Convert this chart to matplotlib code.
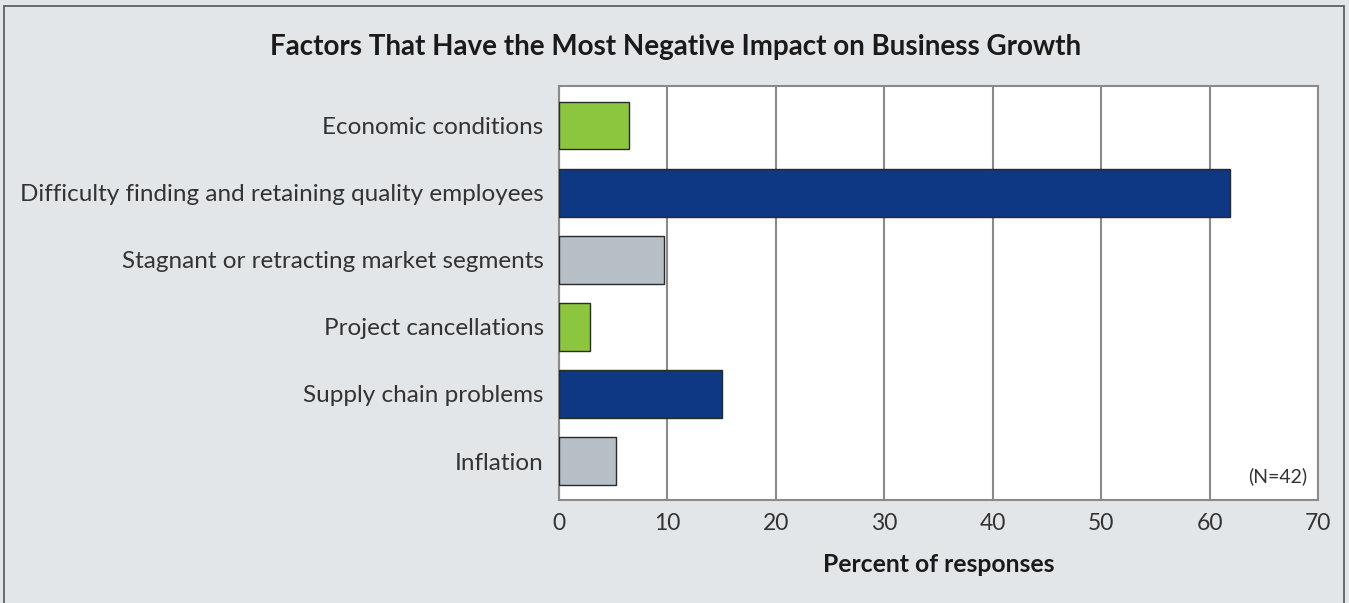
import matplotlib
matplotlib.use("Agg")
import matplotlib.pyplot as plt
from matplotlib.patches import Rectangle

plt.rcParams['font.family'] = ['Lato', 'DejaVu Sans']

categories = [
    "Economic conditions",
    "Difficulty finding and retaining quality employees",
    "Stagnant or retracting market segments",
    "Project cancellations",
    "Supply chain problems",
    "Inflation",
]
values = [6.5, 61.9, 9.7, 2.9, 15.0, 5.3]
bar_colors = ["#8cc63e", "#0e3784", "#b6bec6", "#8cc63e", "#0e3784", "#b6bec6"]
xticks = [0, 10, 20, 30, 40, 50, 60, 70]

fig = plt.figure(figsize=(13.49, 6.03), dpi=100)
fig.patch.set_facecolor("#e3e6e9")

# outer frame of the panel
fig.add_artist(Rectangle((0.003, -0.01), 0.993, 1.0, transform=fig.transFigure,
                         fill=False, edgecolor="#555555", linewidth=1.2))

ax = fig.add_axes([0.4144, 0.1708, 0.5626, 0.6866])
ax.set_facecolor("white")

ypos = list(range(len(categories)))
ax.barh(ypos, values, height=0.71, color=bar_colors, edgecolor="#2a2a2a",
        linewidth=1.0, zorder=3)

ax.set_xlim(0, 70)
ax.set_ylim(len(categories) - 0.42, -0.59)
ax.set_xticks(xticks)
ax.set_xticklabels([str(t) for t in xticks], fontsize=16.5, color="#333333")
ax.set_yticks(ypos)
ax.set_yticklabels(categories, fontsize=17.5, color="#333333")
ax.tick_params(axis="x", length=0, pad=9)
ax.tick_params(axis="y", length=0, pad=11)

ax.grid(axis="x", color="#8a8a8a", linewidth=1.5, zorder=0)
for s in ax.spines.values():
    s.set_color("#8a8a8a")
    s.set_linewidth(1.5)

ax.set_xlabel("Percent of responses", fontsize=17.8, fontweight="bold",
              color="#1a1a1a", labelpad=14)

ax.text(0.986, 0.035, "(N=42)", transform=ax.transAxes, ha="right", va="bottom",
        fontsize=14, color="#333333")

fig.text(0.5007, 0.922, "Factors That Have the Most Negative Impact on Business Growth",
         ha="center", va="center", fontsize=20, fontweight="bold", color="#1a1a1a")

fig.savefig("out.png", dpi=100, facecolor=fig.get_facecolor())
